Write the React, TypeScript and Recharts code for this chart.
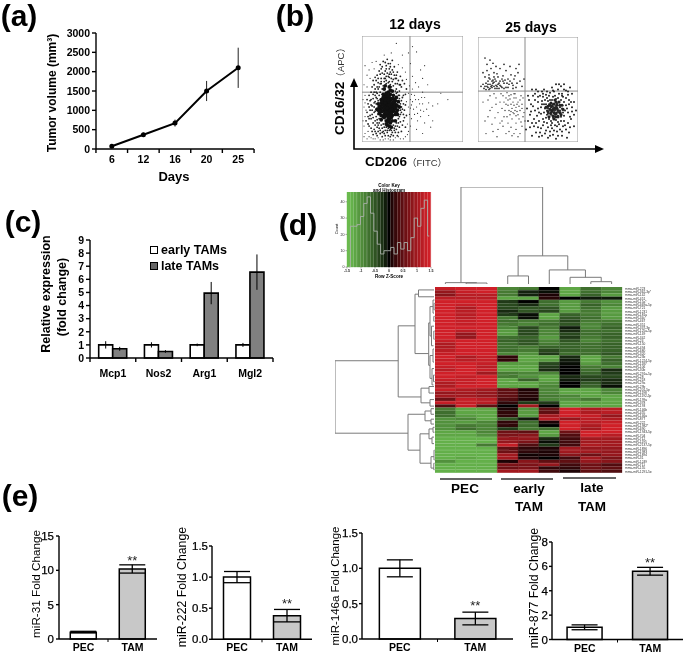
import {
  Bar, BarChart, Cell, ComposedChart, ErrorBar, LabelList, Line, LineChart, ReferenceArea, ReferenceLine,
  Scatter, ScatterChart, XAxis, YAxis,
} from "recharts";

const FONT = '"Liberation Sans", "Noto Sans CJK SC", Arial, sans-serif';

// (a) tumor growth
const days = ["6", "12", "16", "20", "25"];
const tumorVolume = [70, 370, 670, 1500, 2100];
const tumorErr = [25, 50, 90, 260, 520];
const growthData = days.map((day, i) => ({ day, volume: tumorVolume[i], err: tumorErr[i] }));

// (b) flow plots (x, y on a 0-100 display scale)
const day12Core = [
  [26,33],[22,30],[30,36],[24,38],[28,28],[20,35],[32,31],[25,25],[27,42],[18,31],[23,44],[31,41],[34,35],[21,24],[29,23],[19,40],[26,47],[33,26],
  [36,38],[16,36],[24,20],[28,18],[22,50],[30,48],[35,30],[17,27],[26,37],[23,34],[29,33],[25,30],[27,26],[31,29],[21,38],[24,42],[28,39],[20,29],
  [32,37],[26,22],[22,26],[30,25],[18,34],[34,42],[25,16],[29,14],[23,53],[27,52],[19,21],[33,20],[37,33],[15,31],[28,45],[21,45],[24,33],[26,29],
  [30,33],[22,37],[28,35],[25,40],[23,28],[31,34],[27,31],[20,32],[29,41],[24,25],[33,39],[26,43],[19,37],[35,26],[22,41],[30,20],
  [25,35],[27,38],[23,31],[29,36],[26,27],[24,36],[28,31],[22,33],[30,30],[26,40],[24,28],[28,25],[21,35],[32,34],[25,44],[27,21],[23,40],[29,27],[20,38],[31,38],
  [26,19],[24,46],[28,49],[22,23],[33,32],[18,28],[34,28],[17,33],[27,35],[25,32],[23,37],[29,30],[26,24],[21,42],[31,44],[24,17],[27,15],[35,34],[19,25],[16,30],
];
const day12Mid = [
  [12,33],[10,26],[14,42],[8,30],[11,18],[15,14],[13,50],[9,40],[16,56],[19,60],[24,62],[29,60],[33,55],[37,48],[39,28],[41,36],[38,19],[34,12],[30,9],[25,11],
  [20,13],[17,18],[14,24],[7,22],[6,36],[11,45],[18,47],[22,57],[27,57],[31,53],[36,44],[40,42],[42,30],[37,24],[33,15],[27,11],[22,8],[18,8],[13,10],[9,13],
  [6,17],[5,28],[7,44],[10,52],[14,58],[18,64],[23,67],[28,66],[32,63],[36,58],[39,52],[43,45],[44,25],[41,20],[36,9],[31,6],[26,6],[20,5],[15,6],[11,7],
  [16,39],[15,46],[13,29],[17,22],[38,36],[35,47],[39,33],[36,18],[32,13],[28,12],[24,14],[21,17],[15,21],[12,37],[11,23],[37,41],[34,50],[30,57],[26,56],[21,53],
  [17,52],[14,47],[19,55],[24,58],[29,52],[34,46],[38,30],[41,26],[17,13],[23,11],[29,7],[35,15],[40,16],[9,35],[8,25],[13,16],[12,12],[16,10],[20,9],[33,9],
  [26,62],[22,64],[30,68],[19,69],[24,72],[28,74],[32,71],[15,63],[11,58],[35,66],[38,62],[42,55],[27,69],[21,76],[25,78],[30,77],[18,73],[34,60],[40,58],[44,50],
  [13,38],[16,26],[12,28],[10,34],[14,36],[15,18],[19,16],[22,14],[26,13],[31,16],[36,22],[38,26],[40,31],[39,39],[37,44],[33,48],[28,54],[24,55],[20,50],[17,44],
  [14,31],[11,41],[9,22],[13,20],[16,16],[21,10],[25,9],[29,11],[34,18],[37,14],[42,23],[43,35],[41,44],[38,54],[35,55],[31,59],[27,61],[23,60],[19,57],[15,52],
  [12,47],[10,30],[7,33],[8,39],[6,24],[7,15],[10,10],[14,8],[18,11],[23,6],[28,5],[32,11],[35,6],[39,10],[43,14],[12,54],[16,60],[20,65],[25,65],[29,64],
  [33,60],[37,54],[15,41],[13,44],[16,50],[18,55],[22,60],[27,64],[31,66],[34,63],[20,71],[24,69],[28,71],[23,75],[26,74],[17,67],[13,61],[9,47],[5,40],[4,20],
];
const day12Sparse = [
  [3,8],[5,3],[9,4],[13,3],[18,2],[23,3],[28,2],[33,4],[38,3],[43,5],[46,10],[45,17],[47,26],[46,33],[48,40],[46,46],[44,59],[43,66],[40,70],[36,73],
  [12,69],[8,60],[5,52],[3,44],[2,33],[3,24],[2,15],[6,10],[1,40],[2,54],[7,68],[14,76],[10,75],[5,63],[48,32],[50,38],[52,44],[54,33],[56,40],[58,30],
  [60,36],[62,42],[64,31],[66,37],[70,34],[49,22],[52,26],[55,20],[58,24],[62,18],[66,25],[54,12],[60,8],[68,14],[50,50],[53,56],[56,52],[60,47],[65,54],[75,36],
  [78,46],[50,62],[58,68],[62,72],[48,74],[50,90],[34,93],[54,85],[46,84],[60,60],[85,40],[70,20],[40,82],[29,84],[3,72],[22,82],[48,15],[44,38],[47,53],[49,45],
  [4,30],[3,37],[1,20],[2,5],[7,5],[11,3],[16,4],[21,2],[26,3],[31,2],[36,5],[41,3],[45,7],[49,35],[51,31],[53,40],[55,27],[57,36],[59,42],[61,29],
];
const day25Upper = [
  [15,56],[12,60],[18,54],[10,52],[22,58],[8,56],[14,52],[20,62],[26,56],[16,66],[11,64],[7,62],[24,52],[30,60],[28,52],[34,56],[38,52],[13,70],[9,74],[15,75],
  [17,60],[19,51],[12,55],[6,51],[33,64],[36,60],[40,66],[25,63],[28,68],[22,70],[18,72],[42,58],[30,52],[14,58],[10,58],[16,53],[20,55],[24,60],[5,66],[44,53],
  [32,72],[41,74],[12,78],[7,80],[26,74],[38,70],[8,50],[21,51],[35,51],[46,60],[9,68],[3,53],[16,62],[22,54],[27,59],[31,55],[13,53],[11,50],[18,58],[37,63],
  [14,54],[12,51],[9,53],[16,57],[19,53],[21,56],[23,53],[17,51],[15,59],[10,55],[7,53],[5,55],[25,58],[26,51],[29,56],[32,58],[35,54],[39,56],[11,61],[19,65],
];
const day25Lower = [
  [25,44],[30,40],[33,36],[36,42],[38,33],[40,38],[42,30],[35,28],[31,30],[28,36],[22,38],[18,42],[14,33],[20,28],[26,24],[34,22],[38,25],[44,36],[46,28],[41,22],
  [30,18],[25,15],[20,12],[14,17],[10,24],[38,12],[42,8],[34,6],[44,15],[28,8],[37,46],[43,44],[33,45],[29,47],[23,46],[16,46],[12,44],[45,42],[39,29],[36,35],
  [32,26],[27,30],[15,10],[8,8],[19,5],[24,20],[47,20],[5,38],[10,40],[40,5],
  [35,38],[38,42],[41,34],[34,32],[37,30],[39,36],[32,41],[30,35],[42,40],[36,27],[40,26],[33,29],[28,42],[44,32],[36,46],[31,44],[26,38],[24,32],[18,36],[45,24],
  [38,18],[33,14],[29,24],[43,19],[36,8],[31,10],[22,18],[17,23],[12,30],[7,20],
];
const day25Cluster = [
  [77,30],[72,27],[82,33],[75,36],[80,25],[70,32],[85,28],[78,21],[74,40],[68,36],[83,40],[88,35],[66,28],[73,20],[79,15],[86,20],[90,28],[63,33],[69,42],[77,44],
  [84,46],[91,40],[60,38],[65,22],[70,14],[82,12],[88,12],[93,22],[57,30],[62,44],[72,47],[80,50],[88,49],[94,33],[56,22],[60,14],[67,8],[75,7],[84,6],[91,9],
  [53,36],[55,44],[52,26],[58,50],[66,50],[74,52],[83,53],[94,46],[96,26],[52,14],[54,6],[61,5],[70,4],[78,3],[89,4],[50,44],[49,32],[96,15],[92,52],[86,55],
  [76,33],[79,37],[74,29],[81,28],[71,36],[84,32],[77,26],[69,26],[75,23],[83,24],[72,40],[80,42],[87,30],[67,32],[86,38],[64,39],[73,16],[81,17],[65,16],[90,18],
  [59,25],[54,18],[62,9],[69,18],[76,11],[85,15],[92,14],[57,40],[61,28],[68,45],[76,48],[84,44],[90,45],[96,38],[98,30],[50,20],[48,12],[64,48],[72,10],[78,55],
  [60,32],[63,27],[66,36],[69,30],[71,22],[74,18],[77,16],[80,19],[83,20],[86,25],[89,32],[91,36],[88,42],[85,43],[81,46],[78,41],[75,43],[71,44],[67,40],[64,36],
  [61,20],[58,18],[55,34],[57,46],[60,43],[65,43],[70,39],[73,33],[78,34],[82,30],[79,28],[76,24],[73,26],[70,27],[68,23],[66,19],[63,13],[68,11],[74,13],[79,10],
  [84,10],[87,16],[92,24],[94,29],[93,38],[90,48],[86,50],[81,55],[75,49],[69,48],[65,46],[60,48],[54,50],[51,40],[53,29],[56,15],[58,9],[64,6],[72,6],[80,6],
];
const day25Core = [
  [77,32],[74,34],[80,30],[76,28],[72,31],[79,35],[82,28],[75,25],[78,38],[70,29],[84,35],[73,37],[81,38],[68,33],[85,31],[76,22],[71,24],[80,24],[78,27],[74,30],
  [76,36],[79,32],[73,28],[82,35],[70,34],[77,40],[83,26],[75,31],[72,35],[78,24],
];

// (c) macrophage marker qPCR
const genes = ["Mcp1", "Nos2", "Arg1", "Mgl2"];
const earlyTams = [1, 1, 1, 1];
const lateTams = [0.7, 0.5, 4.95, 6.55];
const earlyErr = [0.28, 0.2, 0.1, 0.15];
const lateErr = [0.15, 0.1, 0.85, 1.35];
const geneData = genes.map((gene, i) => ({ gene, early: earlyTams[i], late: lateTams[i], earlyErr: earlyErr[i], lateErr: lateErr[i] }));

// (d) colour key histogram
const keyTicks = [-1.5, -1, -0.5, 0, 0.5, 1, 1.5];
const keyBinMid = [-1.44, -1.32, -1.2, -1.08, -0.96, -0.84, -0.72, -0.6, -0.48, -0.36, -0.24, -0.12, 0, 0.12, 0.24, 0.36, 0.48, 0.6, 0.72, 0.84, 0.96, 1.08, 1.2, 1.32, 1.44];
const keyCounts = [0, 25, 25, 26, 31, 39, 43, 33, 22, 14, 8, 10, 10, 12, 8, 15, 11, 15, 10, 18, 30, 25, 36, 41, 19];
const keyData = keyBinMid.map((bin, i) => ({ bin, count: keyCounts[i], full: 46 }));
const keyTickData = keyTicks.map((z) => ({ z, y: 0 }));

// (d) heatmap, rows top to bottom, columns PEC x3, early TAM x3, late TAM x3
const mirNames = [
  "mmu-miR-223", "mmu-miR-362-3p*", "mmu-miR-142", "mmu-miR-451", "mmu-miR-15a*", "mmu-miR-669a-5p", "mmu-miR-721", "mmu-miR-1231", "mmu-miR-181a", "mmu-miR-34c*",
  "mmu-miR-467", "mmu-miR-351", "mmu-miR-337-3p", "mmu-miR-125a-5p", "mmu-miR-149", "mmu-miR-342", "mmu-miR-24", "mmu-miR-150", "mmu-miR-494", "mmu-miR-680",
  "mmu-miR-320", "mmu-miR-23b", "mmu-miR-1224-5p", "mmu-miR-1187", "mmu-miR-106", "mmu-miR-30b", "mmu-miR-291a-5p", "mmu-miR-28", "mmu-miR-218", "mmu-miR-29a",
  "mmu-miR-29b", "mmu-miR-201-5p", "mmu-miR-1198", "mmu-miR-1192-5p", "mmu-miR-199a", "mmu-miR-378", "mmu-miR-193", "mmu-miR-146b", "mmu-miR-455", "mmu-miR-146a",
  "mmu-miR-877", "mmu-miR-222", "mmu-miR-1982*", "mmu-miR-690", "mmu-miR-1943-5p", "mmu-miR-704", "mmu-miR-712", "mmu-miR-1195", "mmu-miR-2137-5p", "mmu-miR-1896",
  "mmu-miR-1983", "mmu-miR-1894", "mmu-miR-31", "mmu-miR-1249", "mmu-miR-711", "mmu-miR-155", "mmu-miR-1291-5p",
];
const zRows = [
  [1.3, 1.4, 1.4, -0.9, -0.8, 0, -1.2, -0.7, -0.9],
  [0.9, 1.3, 1.4, -0.8, -0.15, -0.05, -1.2, -0.7, -0.9],
  [0.8, 1.2, 1.2, -0.8, -0.15, 0.1, -1.2, -0.6, -1.1],
  [1.2, 1.2, 1.2, -1.2, -1.2, 0.15, 0, -0.1, -0.1],
  [1.4, 1.4, 1.4, -0.3, 0, -0.7, -1.1, -0.8, -1],
  [1.4, 1.3, 1.4, -0.4, -0.2, -0.7, -1.1, -0.6, -0.9],
  [1.4, 1.1, 1.4, -0.4, -0.5, -0.5, -1.1, -0.7, -1.1],
  [1.4, 1.2, 1.4, -0.2, -0.5, -0.4, -1.1, -0.8, -1.1],
  [1.4, 1.2, 1.4, -0.3, -0.05, -1.2, -0.6, -0.8, -1.1],
  [1.4, 1.2, 1.4, -0.8, -0.05, -1.2, -0.5, -0.7, -1.1],
  [1.4, 1.3, 1.4, -0.7, -0.8, -0.8, -0.4, -0.8, -0.8],
  [1.4, 1.3, 1.4, -0.8, -0.9, -0.7, -0.5, -0.9, -0.7],
  [1.4, 1.4, 1.4, -0.9, -0.4, -0.8, -0.1, -0.9, -0.6],
  [1.4, 1.2, 1.4, -1.1, -0.4, -0.9, -0.2, -0.7, -0.7],
  [1.4, 0.9, 1.4, -1.1, -0.4, -0.9, -0.4, -0.7, -0.6],
  [1.4, 0.9, 1.4, -0.7, -0.6, -1.1, -0.3, -0.8, -0.6],
  [1.3, 1.4, 1.4, -0.6, -0.5, -0.9, -0.5, -0.9, -0.7],
  [1.1, 1.4, 1.4, -0.7, -0.5, -0.8, -0.6, -0.7, -0.6],
  [1.1, 1.4, 1.4, -0.7, -0.8, -0.6, -0.6, -0.7, -0.6],
  [1.2, 1.4, 1.4, -0.7, -0.8, -0.4, -0.6, -0.7, -0.6],
  [1.3, 1.4, 1.4, -0.9, -1, -0.3, -0.7, -0.7, -0.5],
  [1.4, 1.1, 1.3, 0.2, -1.2, -1.2, -0.2, -1.2, -0.8],
  [1.3, 1.2, 1.3, 0.2, -1.2, -1.1, -0.1, -1.2, -0.6],
  [1.4, 1.4, 1.3, -1.1, -1.1, -0.4, -0.05, -1.1, -0.7],
  [1.3, 1.4, 1.2, -1.2, -1.2, -0.3, 0, -0.8, -0.9],
  [1.2, 1.4, 1.3, -1.2, -1.2, -0.2, 0, -0.7, -0.2],
  [1.4, 1.4, 1, -0.8, -0.9, -0.9, 0, -0.6, -0.3],
  [1.4, 1.3, 1.4, -0.8, -1, -1.2, -0.2, -0.4, -0.4],
  [1.3, 1.3, 1.4, -1.2, -0.6, -1.2, -0.1, -0.3, -0.2],
  [1.1, 1.3, 1.4, -1.2, -1.2, -1, 0, -0.5, -0.2],
  [1.1, 1.4, 1.4, -1.2, -1.2, -0.9, 0, -0.6, -0.05],
  [1.3, 1.1, 1, 0.5, 0.1, -0.9, -1.2, -1.2, -0.9],
  [0.9, 1, 0.9, 0.5, 0.15, -0.9, -1.2, -1.2, -0.9],
  [1, 1, 0.9, 0.5, 0.15, -0.8, -0.9, -1.2, -1.2],
  [0.6, 1.3, 1.2, 0.4, 0.1, -0.9, -1, -0.8, -1.2],
  [1.3, 1.3, 1.2, 0.2, -0.3, -0.3, -1.2, -1.2, -1.2],
  [0.4, 1.3, 0.5, 0, 1, 0, -1.2, -1.2, -1.2],
  [-0.8, -1.2, -1.2, 0.1, -1, 0.5, 1.4, 1.1, 1.2],
  [-0.7, -1.2, -1.2, 0.2, -1.1, 0.5, 1.4, 1.1, 1.2],
  [-0.7, -1.1, -1.2, 0.2, -1.1, 1, 1.4, 1.3, 0.9],
  [-1, -0.9, -1.2, -0.5, -0.1, 1.2, 0.9, 1.2, 1.1],
  [-1, -1.1, -0.9, 0.2, -0.7, 0.1, 1.5, 1.2, 1.3],
  [-1, -0.8, -0.9, 0.2, -0.7, 0, 1.5, 1.1, 1.4],
  [-1, -0.7, -0.9, -0.3, -0.8, -0.7, 1.5, 1, 1.5],
  [-1.2, -1.2, -0.9, 0.6, 0.5, -1.2, 0.6, 1.4, 1.5],
  [-1.2, -1.2, -1, 0.7, 0.8, -1.1, 0.4, 1.4, 1.2],
  [-1.3, -1.3, -1.3, 0.9, 0.9, -0.2, 0.3, 1, 1],
  [-1.3, -1.3, -1.3, 0.9, 0.7, -0.05, 0.3, 1, 1],
  [-1.3, -1.3, -0.8, 1.3, 0.4, -0.3, 0.3, 1.1, 1],
  [-1.3, -1.3, -1.3, 0.5, 0.2, 0.1, 1, 0.9, 0.9],
  [-1.3, -1.3, -1.3, 0.6, 0.2, 0.1, 1, 1, 0.9],
  [-1.3, -1.3, -1.3, 1, 0.05, 0.1, 0.8, 0.6, 0.9],
  [-1.3, -1.2, -1.3, 1, 0.1, 0, 0.3, 1, 0.7],
  [-1, -1.3, -1.3, 0.1, 0.8, 0.5, 0.5, 0.9, 0.8],
  [-1.3, -1.3, -1.3, 0.7, 0.7, 0.9, 0.3, 0.6, 0.4],
  [-1.3, -1.3, -1.3, 0.6, 0.7, 0.2, 0.2, 0.6, 0.5],
  [-1.3, -1.3, -1.3, 1, 1, 0.3, 0.1, 0.5, 0.4],
];
const heatColumns = ["c0", "c1", "c2", "c3", "c4", "c5", "c6", "c7", "c8"];
const heatData = mirNames.map((name) => {
  const row: Record<string, any> = { name };
  heatColumns.forEach((c) => { row[c] = 1; });
  return row;
});

// dendrograms: [posA, heightA, posB, heightB, mergeHeight]
const colTree = [
  [1.5, 0, 2.5, 0, 1],
  [0.5, 0, 2, 1, 1.4],
  [3.5, 0, 4.5, 0, 8.3],
  [7.5, 0, 8.5, 0, 2.4],
  [6.5, 0, 8, 2.4, 6.9],
  [5.5, 0, 7.24, 6.9, 14.5],
  [4, 8.3, 6.39, 14.5, 29],
  [1.25, 1.4, 5.18, 29, 100],
];
const rowTree = [
  [22.6, 36.8, 44.8, 27, 100],
  [11.9, 20, 33.7, 14, 36.8],
  [2.2, 16.5, 20.4, 6.3, 20],
  [0.9, 1, 3, 1, 16.5],
  [11, 5, 24, 5, 6.3],
  [6, 2, 15, 3.5, 5],
  [21, 2, 28, 3, 5],
  [4, 0.5, 8, 1, 2],
  [12, 1, 18, 1.5, 3.5],
  [19, 1, 23, 1, 2],
  [25, 1, 30, 1.5, 3],
  [31, 6, 35.5, 5, 14],
  [30.5, 1, 32.5, 1, 6],
  [34.5, 1, 36.5, 1, 5],
  [39, 10, 50, 15, 27],
  [38, 4, 41, 4, 10],
  [37.3, 1, 39, 1, 4],
  [40.5, 1, 42, 1, 4],
  [45, 6, 54, 4, 15],
  [43.5, 2, 46.5, 3, 6],
  [52, 1, 55.5, 1, 4],
  [43, 0.5, 44.5, 0.5, 2],
  [46, 1, 48, 1, 3],
  [5, 0.3, 7, 0.3, 1],
  [9, 0.3, 10.5, 0.3, 1.2],
  [13.5, 0.3, 16, 0.3, 1.2],
  [27, 0.3, 29, 0.3, 1.5],
  [50, 0.4, 53, 0.4, 1],
  [54, 0.4, 56, 0.4, 1.2],
];

// (e) fold change panels
const qpcrGroups = ["PEC", "TAM"];
const mir31Values = [1.0, 10.2];
const mir31Err = [0.12, 0.6];
const mir222Values = [1.0, 0.38];
const mir222Err = [0.09, 0.1];
const mir146aValues = [1.0, 0.29];
const mir146aErr = [0.12, 0.09];
const mir877Values = [1.0, 5.6];
const mir877Err = [0.2, 0.32];

const zColor = (z: number) => {
  const t = Math.pow(Math.min(1, Math.abs(z) / 1.4), 0.75);
  const c = z < 0 ? [106, 186, 78] : [208, 32, 40];
  return `rgb(${Math.round(c[0] * t)},${Math.round(c[1] * t)},${Math.round(c[2] * t)})`;
};

const axisStyle = { stroke: "#000", strokeWidth: 1.4 };

const Text = ({ x, y, size, bold, rotate, color, children }: any) => (
  <div
    style={{
      position: "absolute", left: x, top: y, fontFamily: FONT, fontSize: size, fontWeight: bold ? 700 : 400, color: color || "#000",
      whiteSpace: "nowrap", lineHeight: 1, transform: `translate(-50%,-50%)${rotate ? ` rotate(${rotate}deg)` : ""}`,
    }}
  >
    {children}
  </div>
);

// excel style axis: marks sit between categories, labels below
const BandTick = ({ x, y, payload, index, visibleTicksCount, step, size, labelDy, marks }: any) => (
  <g>
    {marks === "all" && <line x1={x - step / 2} x2={x - step / 2} y1={y} y2={y + 4} stroke="#000" strokeWidth={1.4} />}
    {marks === "all" && index === visibleTicksCount - 1 && <line x1={x + step / 2} x2={x + step / 2} y1={y} y2={y + 4} stroke="#000" strokeWidth={1.4} />}
    {marks === "middle" && index === 0 && <line x1={x + step / 2} x2={x + step / 2} y1={y} y2={y + 3} stroke="#000" strokeWidth={1} />}
    <text x={x} y={y + labelDy} textAnchor="middle" fontFamily={FONT} fontSize={size} fontWeight={700} fill="#000">{payload.value}</text>
  </g>
);

const dot = (r: number, fill = "#000") => (p: any) => <circle cx={p.cx} cy={p.cy} r={r} fill={fill} />;
const noDot = () => <g />;

const FlowPlot = ({ left, top, width, height, gateX, gateY, layers }: any) => (
  <div style={{ position: "absolute", left, top }}>
    <ScatterChart width={width} height={height} margin={{ top: 0, right: 0, bottom: 0, left: 0 }}>
      <XAxis type="number" dataKey="x" domain={[0, 100]} hide />
      <YAxis type="number" dataKey="y" domain={[0, 100]} hide />
      {layers.map((l: any, i: number) => (
        <Scatter key={i} data={l.points.map((p: number[]) => ({ x: p[0], y: p[1] }))} shape={dot(l.r, l.fill)} isAnimationActive={false} />
      ))}
      <ReferenceLine x={gateX} stroke="#8a8a8a" strokeWidth={1} />
      <ReferenceLine y={gateY} stroke="#8a8a8a" strokeWidth={1} />
      <ReferenceArea x1={0} x2={100} y1={0} y2={100} fill="none" stroke="#999" strokeWidth={1} />
    </ScatterChart>
  </div>
);

const FoldChart = ({ axisX, xEnd, plotTop, plotBottom, values, errs, max, ticks, digits, label, labelX, labelY, labelSize, starOffset, tickGap }: any) => {
  const yw = 30;
  const data = qpcrGroups.map((group, i) => ({ group, value: values[i], err: errs[i], star: i === 1 ? "**" : "" }));
  const w = xEnd - axisX;
  return (
    <>
      <Text x={labelX} y={labelY} size={labelSize} rotate={-90}>{label}</Text>
      <div style={{ position: "absolute", left: axisX - yw, top: plotTop - 8 }}>
        <BarChart width={w + yw + 2} height={plotBottom - plotTop + 30} data={data} margin={{ top: 8, right: 2, bottom: 0, left: 0 }} barCategoryGap="23%">
          <XAxis dataKey="group" height={22} axisLine={axisStyle} tickLine={false} tickSize={0} tickMargin={0} interval={0}
            tick={<BandTick step={w / 2} size={10.5} labelDy={12} marks="middle" />} />
          <YAxis width={yw} domain={[0, max]} ticks={ticks} interval={0} axisLine={axisStyle} tickSize={3} tickMargin={tickGap}
            tickFormatter={(v) => Number(v).toFixed(digits)}
            tickLine={axisStyle} tick={{ fill: "#000", stroke: "#000", strokeWidth: 0.25, fontSize: 11.5, fontFamily: FONT }} />
          <Bar dataKey="value" stroke="#000" strokeWidth={1.5} isAnimationActive={false}>
            {data.map((d, i) => <Cell key={d.group} fill={i === 0 ? "#fff" : "#c8c8c8"} />)}
            <ErrorBar dataKey="err" width={13} stroke="#000" strokeWidth={1.3} />
            <LabelList dataKey="star" position="top" offset={starOffset} fill="#222" fontSize={13} fontFamily={FONT} />
          </Bar>
        </BarChart>
      </div>
    </>
  );
};

const TreeChart = ({ left, top, width, height, horizontal, merges, posDomain }: any) => {
  const paths = merges.map((m: number[]) => {
    const pts = [[m[0], m[1]], [m[0], m[4]], [m[2], m[4]], [m[2], m[3]]];
    return pts.map(([pos, h]) => (horizontal ? { x: pos, y: h } : { x: h, y: pos }));
  });
  return (
    <div style={{ position: "absolute", left, top }}>
      <ScatterChart width={width} height={height} margin={{ top: 0, right: 0, bottom: 0, left: 0 }}>
        <XAxis type="number" dataKey="x" hide domain={horizontal ? posDomain : [0, 100]} reversed={!horizontal} />
        <YAxis type="number" dataKey="y" hide domain={horizontal ? [0, 100] : posDomain} reversed={!horizontal} />
        {paths.map((p: any, i: number) => (
          <Scatter key={i} data={p} line={{ stroke: "#7a7a7a", strokeWidth: 1 }} shape={noDot} isAnimationActive={false} />
        ))}
      </ScatterChart>
    </div>
  );
};

export default function App() {
  return (
    <div style={{ position: "absolute", left: 0, top: 0, width: 685, height: 656, background: "#fff", overflow: "hidden", filter: "blur(0.4px)" }}>
      <Text x={19} y={16} size={30} bold>(a)</Text>
      <Text x={295} y={16} size={30} bold>(b)</Text>
      <Text x={23} y={222} size={30} bold>(c)</Text>
      <Text x={298} y={225} size={30} bold>(d)</Text>
      <Text x={20} y={496} size={30} bold>(e)</Text>

      {/* (a) */}
      <Text x={52} y={93} size={12} bold rotate={-90}>Tumor volume (mm³)</Text>
      <Text x={174} y={176} size={13} bold>Days</Text>
      <div style={{ position: "absolute", left: 51, top: 25 }}>
        <LineChart width={210} height={150} data={growthData} margin={{ top: 8, right: 7, bottom: 0, left: 0 }}>
          <XAxis dataKey="day" scale="band" height={26} axisLine={axisStyle} tickLine={false} tickSize={0} tickMargin={0} interval={0}
            tick={<BandTick step={31.7} size={10.5} labelDy={14} marks="all" />} />
          <YAxis width={45} domain={[0, 3000]} ticks={[0, 500, 1000, 1500, 2000, 2500, 3000]} interval={0} axisLine={axisStyle} tickLine={axisStyle} tickSize={4} tickMargin={2}
            tick={{ fill: "#000", fontSize: 10.5, fontWeight: 700, fontFamily: FONT }} />
          <Line dataKey="volume" type="linear" stroke="#000" strokeWidth={2} dot={{ r: 1.5, fill: "#000", stroke: "#000" }} isAnimationActive={false}>
            <ErrorBar dataKey="err" width={0} stroke="#222" strokeWidth={1} />
          </Line>
        </LineChart>
      </div>

      {/* (b) */}
      <Text x={415} y={24} size={14} bold>12 days</Text>
      <Text x={531} y={27} size={14} bold>25 days</Text>
      <FlowPlot left={362} top={36} width={101} height={106} gateX={47.5} gateY={47}
        layers={[{ points: day12Sparse, r: 0.6, fill: "#333" }, { points: day12Mid, r: 0.9, fill: "#222" }, { points: day12Core, r: 1.9, fill: "#111" }]} />
      <FlowPlot left={478} top={37} width={100} height={105} gateX={47} gateY={48.5}
        layers={[{ points: day25Upper, r: 0.85, fill: "#222" }, { points: day25Lower, r: 0.7, fill: "#333" }, { points: day25Cluster, r: 1, fill: "#222" }, { points: day25Core, r: 1.6, fill: "#222" }]} />
      <svg width={685} height={656} style={{ position: "absolute", left: 0, top: 0, pointerEvents: "none" }}>
        <polyline points="354,84 354,149 596,149" fill="none" stroke="#000" strokeWidth={1.6} />
        <polygon points="354,78 350,87 358,87" fill="#000" />
        <polygon points="604,149 595,145 595,153" fill="#000" />
      </svg>
      <Text x={340} y={89} size={13.5} bold rotate={-90}>CD16/32<span style={{ fontWeight: 400, fontSize: 9.5, color: "#333" }}>（APC）</span></Text>
      <Text x={406} y={162} size={13.5} bold>CD206<span style={{ fontWeight: 400, fontSize: 9.5, color: "#333" }}>（FITC）</span></Text>

      {/* (c) */}
      <Text x={46} y={294} size={12.5} bold rotate={-90}>Relative expression</Text>
      <Text x={62} y={297} size={12.5} bold rotate={-90}>(fold change)</Text>
      <div style={{ position: "absolute", left: 60, top: 232 }}>
        <BarChart width={216} height={152} data={geneData} margin={{ top: 8, right: 3, bottom: 0, left: 0 }} barCategoryGap="19%" barGap={0}>
          <XAxis dataKey="gene" height={26} axisLine={axisStyle} tickLine={false} tickSize={0} tickMargin={0} interval={0}
            tick={<BandTick step={45.75} size={10.5} labelDy={19} marks="all" />} />
          <YAxis width={30} domain={[0, 9]} ticks={[0, 1, 2, 3, 4, 5, 6, 7, 8, 9]} interval={0} axisLine={axisStyle} tickLine={axisStyle} tickSize={4} tickMargin={2}
            tick={{ fill: "#000", fontSize: 10.5, fontWeight: 700, fontFamily: FONT }} />
          <Bar dataKey="early" name="early TAMs" fill="#fff" stroke="#000" strokeWidth={1.6} isAnimationActive={false}>
            <ErrorBar dataKey="earlyErr" width={0} stroke="#000" strokeWidth={1} />
          </Bar>
          <Bar dataKey="late" name="late TAMs" fill="#808080" stroke="#000" strokeWidth={1.6} isAnimationActive={false}>
            <ErrorBar dataKey="lateErr" width={0} stroke="#000" strokeWidth={1} />
          </Bar>
        </BarChart>
      </div>
      <div style={{ position: "absolute", left: 150, top: 246, width: 8, height: 8, background: "#fff", border: "1.5px solid #000", boxSizing: "border-box" }} />
      <div style={{ position: "absolute", left: 150, top: 262, width: 8, height: 8, background: "#666", border: "1.5px solid #000", boxSizing: "border-box" }} />
      <Text x={194} y={250} size={12.5} bold>early TAMs</Text>
      <Text x={190} y={266} size={12.5} bold>late TAMs</Text>

      {/* (d) colour key */}
      <Text x={389} y={185.5} size={4.6} bold>Color Key</Text>
      <Text x={389} y={190.5} size={4.6} bold>and Histogram</Text>
      <Text x={337} y={229} size={4} rotate={-90}>Count</Text>
      <Text x={389} y={276.5} size={4.6} bold>Row Z-Score</Text>
      <div style={{ position: "absolute", left: 337, top: 192 }}>
        <ComposedChart width={95} height={79} data={keyData} margin={{ top: 0, right: 1, bottom: 4, left: 0 }} barCategoryGap={0}>
          <XAxis dataKey="bin" hide />
          <YAxis width={10} domain={[0, 46]} ticks={[0, 10, 20, 30, 40]} interval={0} axisLine={false} tickSize={1.5} tickMargin={1}
            tick={{ fontSize: 3.6, fill: "#222", fontFamily: FONT }} tickLine={{ stroke: "#555", strokeWidth: 0.5 }} />
          <Bar dataKey="full" isAnimationActive={false}>
            {keyData.map((d) => <Cell key={d.bin} fill={zColor(d.bin)} stroke={zColor(d.bin)} strokeWidth={0.4} />)}
          </Bar>
          <Line dataKey="count" type="step" stroke="#a9b0a9" strokeWidth={0.9} dot={false} isAnimationActive={false} />
        </ComposedChart>
      </div>
      <div style={{ position: "absolute", left: 341, top: 266 }}>
        <ScatterChart width={96} height={10} margin={{ top: 0, right: 6, bottom: 0, left: 6 }}>
          <XAxis type="number" dataKey="z" domain={[-1.5, 1.5]} ticks={keyTicks} interval={0} height={9} axisLine={false} tickSize={1.5} tickMargin={1}
            tick={{ fontSize: 3.6, fontWeight: 700, fill: "#222", fontFamily: FONT }} tickFormatter={(v) => String(v)} tickLine={{ stroke: "#555", strokeWidth: 0.5 }} />
          <YAxis type="number" dataKey="y" hide />
          <Scatter data={keyTickData} shape={noDot} isAnimationActive={false} />
        </ScatterChart>
      </div>

      {/* (d) heatmap and trees */}
      <TreeChart left={435} top={187.3} width={187} height={97} horizontal merges={colTree} posDomain={[0, 9]} />
      <TreeChart left={335} top={287.3} width={100} height={186} merges={rowTree} posDomain={[0, 57]} />
      <div style={{ position: "absolute", left: 435, top: 287.3 }}>
        <BarChart width={230} height={186} data={heatData} layout="vertical" margin={{ top: 0, right: 0, bottom: 0, left: 0 }} barCategoryGap={0} barGap={0}>
          <XAxis type="number" domain={[0, 9]} hide />
          <YAxis type="category" dataKey="name" orientation="right" width={43} interval={0} axisLine={false} tickLine={false} tickSize={0} tickMargin={3}
            tick={{ fontSize: 3.2, fill: "#333", fontFamily: FONT, textAnchor: "start" }} />
          {heatColumns.map((c, ci) => (
            <Bar key={c} dataKey={c} stackId="heat" isAnimationActive={false}>
              {zRows.map((row, ri) => <Cell key={ri} fill={zColor(row[ci])} stroke={zColor(row[ci])} strokeWidth={0.3} />)}
            </Bar>
          ))}
        </BarChart>
      </div>
      <svg width={685} height={656} style={{ position: "absolute", left: 0, top: 0, pointerEvents: "none" }}>
        <line x1={440} x2={492} y1={479} y2={479} stroke="#333" strokeWidth={1.4} />
        <line x1={501} x2={553} y1={479} y2={479} stroke="#333" strokeWidth={1.4} />
        <line x1={563} x2={616} y1={478} y2={478} stroke="#333" strokeWidth={1.4} />
      </svg>
      <Text x={465} y={489} size={13.5} bold>PEC</Text>
      <Text x={529} y={489} size={13.5} bold>early</Text>
      <Text x={529} y={507} size={13.5} bold>TAM</Text>
      <Text x={592} y={488} size={13.5} bold>late</Text>
      <Text x={592} y={507} size={13.5} bold>TAM</Text>

      {/* (e) */}
      <FoldChart axisX={59} xEnd={157} plotTop={536} plotBottom={639} values={mir31Values} errs={mir31Err} max={15} ticks={[0, 5, 10, 15]} digits={0} tickGap={2}
        label="miR-31 Fold Change" labelX={36} labelY={583.5} labelSize={11.7} starOffset={4} />
      <FoldChart axisX={212} xEnd={312} plotTop={545.7} plotBottom={639} values={mir222Values} errs={mir222Err} max={1.5} ticks={[0, 0.5, 1, 1.5]} digits={1} tickGap={1}
        label="miR-222 Fold Change" labelX={182} labelY={587} labelSize={12.3} starOffset={8} />
      <FoldChart axisX={362} xEnd={513} plotTop={533} plotBottom={639} values={mir146aValues} errs={mir146aErr} max={1.5} ticks={[0, 0.5, 1, 1.5]} digits={1} tickGap={1}
        label="miR-146a Fold Change" labelX={336} labelY={586} labelSize={11.5} starOffset={9} />
      <FoldChart axisX={552} xEnd={683} plotTop={542} plotBottom={639.5} values={mir877Values} errs={mir877Err} max={8} ticks={[0, 2, 4, 6, 8]} digits={0} tickGap={1}
        label="miR-877 Fold Change" labelX={534} labelY={588} labelSize={12.3} starOffset={4} />
    </div>
  );
}
